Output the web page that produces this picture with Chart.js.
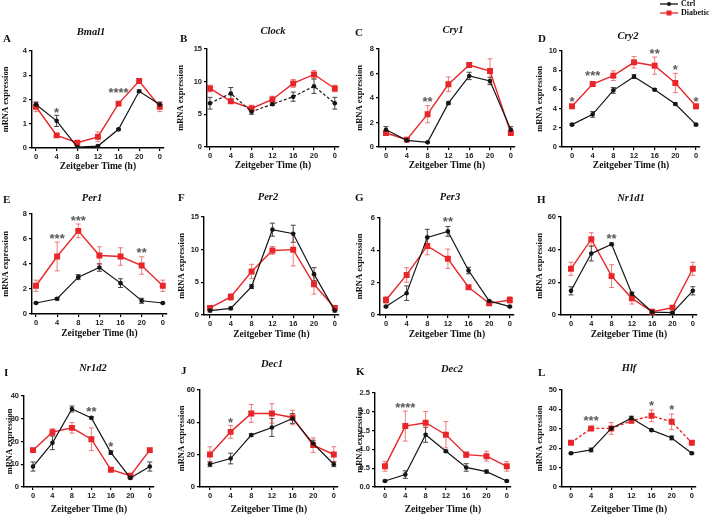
<!DOCTYPE html>
<html>
<head>
<meta charset="utf-8">
<script src="https://cdn.jsdelivr.net/npm/chart.js@4.4.1/dist/chart.umd.min.js"></script>
<style>
  html, body { margin: 0; padding: 0; background: #fff; }
  #wrap { position: relative; width: 709px; height: 516px; overflow: hidden; }
  #wrap canvas { position: absolute; }
</style>
</head>
<body>
<div id="wrap"></div>
<script>
// Zeitgeber time points (the last 0 is ZT24 plotted again)
const zt = [0, 4, 8, 12, 16, 20, 24];
const ztLabels = ['0', '4', '8', '12', '16', '20', '0'];

// mean and SEM per gene, Ctrl vs Diabetic
const bmal1Ctrl = [1.79, 1.12, 0.04, 0.08, 0.77, 2.34, 1.79];
const bmal1CtrlSem = [0.1, 0.23, 0.03, 0.03, 0.04, 0.05, 0.1];
const bmal1Dia = [1.70, 0.52, 0.22, 0.46, 1.83, 2.76, 1.70];
const bmal1DiaSem = [0.2, 0.05, 0.05, 0.2, 0.08, 0.07, 0.2];
const bmal1Sig = [[4, 1.6, '*'], [16, 2.4, '****']];

const clockCtrl = [6.7, 8.2, 5.4, 6.55, 7.7, 9.3, 6.7];
const clockCtrlSem = [0.9, 0.9, 0.4, 0.2, 0.7, 1.1, 0.9];
const clockDia = [8.96, 7.0, 5.9, 7.27, 9.73, 11.1, 8.96];
const clockDiaSem = [0.5, 0.3, 0.5, 0.5, 0.6, 0.6, 0.5];
const clockSig = [];

const cry1Ctrl = [1.41, 0.54, 0.38, 3.58, 5.8, 5.39, 1.41];
const cry1CtrlSem = [0.25, 0.05, 0.05, 0.1, 0.3, 0.3, 0.25];
const cry1Dia = [1.14, 0.6, 2.68, 5.12, 6.69, 6.2, 1.14];
const cry1DiaSem = [0.1, 0.05, 0.7, 0.6, 0.15, 1.0, 0.1];
const cry1Sig = [[8, 3.95, '**']];

const cry2Ctrl = [2.33, 3.4, 5.9, 7.33, 5.97, 4.48, 2.33];
const cry2CtrlSem = [0.1, 0.3, 0.3, 0.2, 0.1, 0.1, 0.1];
const cry2Dia = [4.24, 6.56, 7.43, 8.82, 8.47, 6.67, 4.24];
const cry2DiaSem = [0.2, 0.2, 0.5, 0.6, 0.9, 1.0, 0.2];
const cry2Sig = [[0, 5.1, '*'], [4, 7.8, '***'], [16, 10.05, '**'], [20, 8.4, '*'], [24, 5.1, '*']];

const per1Ctrl = [0.88, 1.22, 2.95, 3.72, 2.47, 1.06, 0.88];
const per1CtrlSem = [0.05, 0.1, 0.2, 0.3, 0.35, 0.2, 0.05];
const per1Dia = [2.26, 4.6, 6.65, 4.68, 4.6, 3.88, 2.26];
const per1DiaSem = [0.45, 1.15, 0.55, 0.7, 0.7, 0.7, 0.45];
const per1Sig = [[4, 6.3, '***'], [8, 7.75, '***'], [20, 5.2, '**']];

const per2Ctrl = [0.67, 1.02, 4.35, 13.06, 12.44, 6.25, 0.67];
const per2CtrlSem = [0.2, 0.2, 0.3, 1.0, 1.3, 1.0, 0.2];
const per2Dia = [1.08, 2.76, 6.66, 9.88, 10.0, 4.7, 1.08];
const per2DiaSem = [0.2, 0.5, 1.1, 0.6, 2.5, 1.5, 0.2];
const per2Sig = [];

const per3Ctrl = [0.52, 1.35, 4.8, 5.17, 2.75, 0.87, 0.52];
const per3CtrlSem = [0.05, 0.45, 0.5, 0.3, 0.2, 0.05, 0.05];
const per3Dia = [0.93, 2.48, 4.27, 3.48, 1.72, 0.72, 0.93];
const per3DiaSem = [0.2, 0.45, 0.55, 0.6, 0.1, 0.1, 0.2];
const per3Sig = [[12, 5.95, '**']];

const nr1d1Ctrl = [14.8, 37.6, 43.3, 13.0, 1.8, 1.4, 14.8];
const nr1d1CtrlSem = [2.5, 4.5, 0.8, 1.0, 0.5, 0.5, 2.5];
const nr1d1Dia = [28.3, 46.4, 23.8, 10.2, 2.0, 4.5, 28.3];
const nr1d1DiaSem = [4, 4, 7, 3.5, 0.5, 0.8, 4];
const nr1d1Sig = [[8, 48.8, '**']];

const nr1d2Ctrl = [9.0, 19.4, 34.3, 30.4, 15.1, 4.0, 9.0];
const nr1d2CtrlSem = [2, 3, 1.3, 0.5, 0.8, 0.5, 2];
const nr1d2Dia = [16.2, 24.1, 26.0, 21.0, 7.6, 5.0, 16.2];
const nr1d2DiaSem = [0.8, 1.5, 2.3, 5, 0.5, 0.5, 0.8];
const nr1d2Sig = [[12, 34.3, '**'], [16, 19.1, '*']];

const dec1Ctrl = [14.1, 17.6, 32.1, 36.8, 42.4, 26.9, 14.1];
const dec1CtrlSem = [1.5, 3.3, 0.8, 5.5, 3, 2, 1.5];
const dec1Dia = [20.1, 34.1, 45.5, 45.5, 43.0, 25.9, 20.1];
const dec1DiaSem = [4.8, 4, 5.5, 6, 4.5, 4.5, 4.8];
const dec1Sig = [[4, 42, '*']];

const dec2Ctrl = [0.16, 0.33, 1.39, 0.95, 0.52, 0.41, 0.16];
const dec2CtrlSem = [0.02, 0.1, 0.2, 0.03, 0.1, 0.04, 0.02];
const dec2Dia = [0.55, 1.62, 1.71, 1.39, 0.86, 0.82, 0.55];
const dec2DiaSem = [0.13, 0.4, 0.3, 0.35, 0.07, 0.13, 0.13];
const dec2Sig = [[4, 2.2, '****']];

const hlfCtrl = [17.4, 19.1, 30.2, 35.5, 29.3, 25.3, 17.4];
const hlfCtrlSem = [0.5, 1, 1, 1, 0.5, 1, 0.5];
const hlfDia = [22.8, 30.2, 30.2, 34.1, 36.7, 33.6, 22.8];
const hlfDiaSem = [0.8, 0.8, 3, 1, 3, 4, 0.8];
const hlfSig = [[4, 35.7, '***'], [16, 43.4, '*'], [20, 41.7, '*']];

const RED = '#e8262a';
const BLACK = '#151515';

const panels = [
  { letter: 'A', gene: 'Bmal1', ctrl: bmal1Ctrl, ctrlSem: bmal1CtrlSem, dia: bmal1Dia, diaSem: bmal1DiaSem, sig: bmal1Sig, yMax: 4, yStep: 1 },
  { letter: 'B', gene: 'Clock', ctrl: clockCtrl, ctrlSem: clockCtrlSem, dia: clockDia, diaSem: clockDiaSem, sig: clockSig, yMax: 15, yStep: 5, ctrlDash: true },
  { letter: 'C', gene: 'Cry1', ctrl: cry1Ctrl, ctrlSem: cry1CtrlSem, dia: cry1Dia, diaSem: cry1DiaSem, sig: cry1Sig, yMax: 8, yStep: 2 },
  { letter: 'D', gene: 'Cry2', ctrl: cry2Ctrl, ctrlSem: cry2CtrlSem, dia: cry2Dia, diaSem: cry2DiaSem, sig: cry2Sig, yMax: 10, yStep: 2, legend: true },
  { letter: 'E', gene: 'Per1', ctrl: per1Ctrl, ctrlSem: per1CtrlSem, dia: per1Dia, diaSem: per1DiaSem, sig: per1Sig, yMax: 8, yStep: 2 },
  { letter: 'F', gene: 'Per2', ctrl: per2Ctrl, ctrlSem: per2CtrlSem, dia: per2Dia, diaSem: per2DiaSem, sig: per2Sig, yMax: 15, yStep: 5 },
  { letter: 'G', gene: 'Per3', ctrl: per3Ctrl, ctrlSem: per3CtrlSem, dia: per3Dia, diaSem: per3DiaSem, sig: per3Sig, yMax: 6, yStep: 2 },
  { letter: 'H', gene: 'Nr1d1', ctrl: nr1d1Ctrl, ctrlSem: nr1d1CtrlSem, dia: nr1d1Dia, diaSem: nr1d1DiaSem, sig: nr1d1Sig, yMax: 60, yStep: 20 },
  { letter: 'I', gene: 'Nr1d2', ctrl: nr1d2Ctrl, ctrlSem: nr1d2CtrlSem, dia: nr1d2Dia, diaSem: nr1d2DiaSem, sig: nr1d2Sig, yMax: 40, yStep: 10 },
  { letter: 'J', gene: 'Dec1', ctrl: dec1Ctrl, ctrlSem: dec1CtrlSem, dia: dec1Dia, diaSem: dec1DiaSem, sig: dec1Sig, yMax: 60, yStep: 20 },
  { letter: 'K', gene: 'Dec2', ctrl: dec2Ctrl, ctrlSem: dec2CtrlSem, dia: dec2Dia, diaSem: dec2DiaSem, sig: dec2Sig, yMax: 2.5, yStep: 0.5, decimals: 1 },
  { letter: 'L', gene: 'Hlf', ctrl: hlfCtrl, ctrlSem: hlfCtrlSem, dia: hlfDia, diaSem: hlfDiaSem, sig: hlfSig, yMax: 50, yStep: 10, diaDash: true },
];

// page geometry per panel:
// canvas left, canvas top, y-axis x, x of ZT0, x of ZT24, plot top, plot bottom, x-axis box height,
// title centre x/y, letter x/y
const geom = [
  [1, 0, 32, 36, 160, 51, 148, 24, 91, 32, 3, 39],
  [176, 0, 207, 210, 335, 49, 147, 24, 273, 31, 180, 39],
  [355, 0, 379, 386, 511, 49, 147, 24, 453, 30, 355, 33],
  [535, 0, 562, 572, 696, 51, 147, 24, 628, 36, 538, 39],
  [1, 180, 32, 36, 163, 214, 314, 25, 92, 198, 3, 200],
  [177, 180, 204, 210, 335, 217, 315, 25, 268, 197, 178, 198],
  [355, 180, 380, 386, 510, 218, 315, 25, 450, 197, 355, 198],
  [535, 180, 561, 571, 693, 217, 315, 25, 631, 198, 537, 200],
  [5, 350, 24, 33, 150, 396, 487, 28, 93, 368, 4, 373],
  [177, 350, 200, 210, 334, 390, 487, 28, 272, 364, 181, 371],
  [355, 350, 375, 385, 507, 393, 487, 28, 452, 369, 356, 372],
  [535, 350, 562, 571, 692, 390, 487, 28, 629, 368, 538, 373],
];

const errorBars = {
  id: 'errorBars',
  beforeDatasetsDraw(chart) {
    const ctx = chart.ctx;
    const ys = chart.scales.y;
    chart.data.datasets.forEach((ds, di) => {
      const meta = chart.getDatasetMeta(di);
      ctx.save();
      ctx.strokeStyle = ds.errColor;
      ctx.lineWidth = 1;
      meta.data.forEach((pt, i) => {
        const v = ds.data[i].y, e = ds.sem[i];
        const t = ys.getPixelForValue(v + e);
        const b = ys.getPixelForValue(v - e);
        ctx.beginPath();
        ctx.moveTo(pt.x, t); ctx.lineTo(pt.x, b);
        ctx.moveTo(pt.x - 2.5, t); ctx.lineTo(pt.x + 2.5, t);
        ctx.moveTo(pt.x - 2.5, b); ctx.lineTo(pt.x + 2.5, b);
        ctx.stroke();
      });
      ctx.restore();
    });
  }
};

const decorations = {
  id: 'decorations',
  afterDraw(chart, args, opts) {
    const ctx = chart.ctx;
    const p = opts.panel, g = opts.geom;
    const ox = g[0], oy = g[1];
    ctx.save();
    // gene title
    ctx.fillStyle = '#111';
    ctx.font = 'italic bold 10.5px "Liberation Serif"';
    ctx.textAlign = 'center';
    ctx.textBaseline = 'middle';
    ctx.fillText(p.gene, g[8] - ox, g[9] - oy);
    // panel letter
    ctx.font = 'bold 11px "Liberation Serif"';
    ctx.textAlign = 'left';
    ctx.fillText(p.letter, g[10] - ox, g[11] - oy);
    // significance marks
    ctx.fillStyle = '#5a5a5a';
    ctx.font = 'bold 13px "Liberation Sans"';
    ctx.textAlign = 'center';
    ctx.textBaseline = 'alphabetic';
    p.sig.forEach(([x, y, s]) => {
      ctx.fillText(s, chart.scales.x.getPixelForValue(x), chart.scales.y.getPixelForValue(y) + 7.5);
    });
    // legend
    if (p.legend) {
      const items = [['Ctrl', BLACK, 'circle', 4], ['Diabetic', RED, 'rect', 13]];
      items.forEach(([label, col, style, y]) => {
        const yy = y - oy;
        ctx.strokeStyle = col;
        ctx.fillStyle = col;
        ctx.lineWidth = 1.3;
        ctx.beginPath();
        ctx.moveTo(660 - ox, yy); ctx.lineTo(678 - ox, yy);
        ctx.stroke();
        if (style === 'circle') {
          ctx.beginPath(); ctx.arc(669 - ox, yy, 2, 0, Math.PI * 2); ctx.fill();
        } else {
          ctx.fillRect(669 - ox - 2.5, yy - 2.5, 5, 5);
        }
        ctx.fillStyle = '#111';
        ctx.font = 'bold 8px "Liberation Serif"';
        ctx.textAlign = 'left';
        ctx.textBaseline = 'middle';
        ctx.fillText(label, 681 - ox, yy);
      });
    }
    ctx.restore();
  }
};

const wrap = document.getElementById('wrap');
const tickFont = { family: '"Liberation Sans"', weight: 'bold', size: 7.5 };
const axisLine = { display: true, color: '#000', width: 1.4 };
const tickGrid = { display: true, drawOnChartArea: false, drawTicks: true, tickLength: 3, color: '#000', lineWidth: 1.2 };

panels.forEach((p, k) => {
  const g = geom[k];
  const [cl, ct, axisX, p0, p24, top, bottom, xH] = g;
  const pph = (p24 - p0) / 24;
  const right = p24 + 4;
  const xMin = -(p0 - axisX) / pph;
  const xMax = 24 + 4 / pph;
  const cRight = p.legend ? 709 : right + 4;
  const cw = cRight - cl;
  const ch = bottom + xH - ct;

  const cv = document.createElement('canvas');
  cv.width = cw; cv.height = ch;
  cv.style.left = cl + 'px'; cv.style.top = ct + 'px';
  cv.style.width = cw + 'px'; cv.style.height = ch + 'px';
  wrap.appendChild(cv);

  const toPts = arr => arr.map((v, i) => ({ x: zt[i], y: v }));

  new Chart(cv.getContext('2d'), {
    type: 'line',
    data: {
      datasets: [
        {
          label: 'Ctrl', data: toPts(p.ctrl), sem: p.ctrlSem, errColor: '#444',
          borderColor: BLACK, backgroundColor: BLACK, borderWidth: 1.2,
          borderDash: p.ctrlDash ? [3, 2] : [],
          pointStyle: 'circle', pointRadius: 2.3, pointBorderWidth: 0, tension: 0
        },
        {
          label: 'Diabetic', data: toPts(p.dia), sem: p.diaSem, errColor: 'rgba(232,38,42,0.6)',
          borderColor: RED, backgroundColor: RED, borderWidth: 1.4,
          borderDash: p.diaDash ? [3, 2] : [],
          pointStyle: 'rect', pointRadius: 4.2, pointBorderWidth: 0, tension: 0
        }
      ]
    },
    options: {
      responsive: false,
      animation: false,
      events: [],
      layout: { padding: { left: 0, top: top - ct, right: cRight - right, bottom: 0 } },
      plugins: {
        legend: { display: false },
        tooltip: { enabled: false },
        title: { display: false },
        decorations: { panel: p, geom: g }
      },
      scales: {
        x: {
          type: 'linear', min: xMin, max: xMax,
          afterBuildTicks: s => { s.ticks = zt.map(v => ({ value: v })); },
          afterFit: s => { s.height = xH; },
          ticks: {
            autoSkip: false, maxRotation: 0, padding: 1, color: '#222', font: tickFont,
            callback: v => ztLabels[zt.indexOf(v)]
          },
          grid: tickGrid,
          border: axisLine,
          title: {
            display: true, text: 'Zeitgeber Time (h)', color: '#111', padding: 0,
            font: { family: '"Liberation Serif"', weight: 'bold', size: 9.5 }
          }
        },
        y: {
          min: 0, max: p.yMax,
          afterFit: s => { s.width = axisX - cl; },
          ticks: {
            stepSize: p.yStep, padding: 2, color: '#222', font: tickFont,
            callback: v => p.decimals ? v.toFixed(p.decimals) : v
          },
          grid: tickGrid,
          border: axisLine,
          title: {
            display: true, text: 'mRNA expression', color: '#111', padding: 0,
            font: { family: '"Liberation Serif"', weight: 'bold', size: 8.5 }
          }
        }
      }
    },
    plugins: [errorBars, decorations]
  });
});
</script>
</body>
</html>
